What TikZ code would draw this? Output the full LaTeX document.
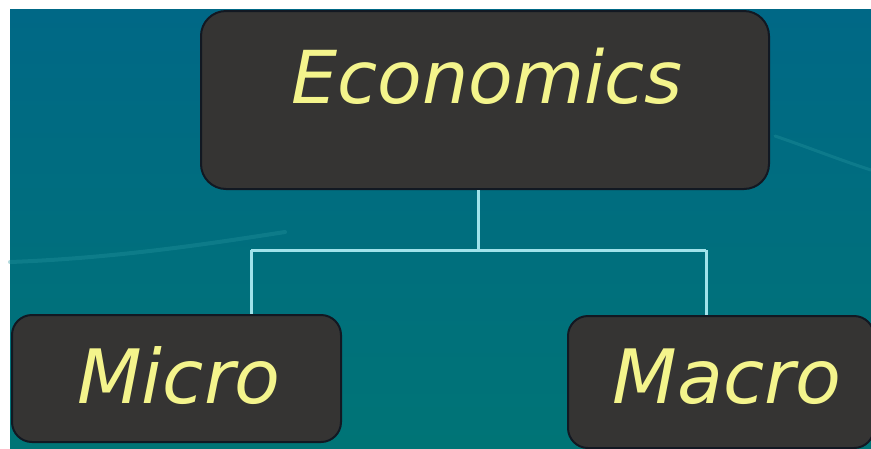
\documentclass[tikz,border=0pt]{standalone}
\usepackage{fontspec}
\newfontfamily\labelfont{DejaVu Sans}
\definecolor{bgtop}{RGB}{0,104,134}
\definecolor{bgbot}{RGB}{0,116,118}
\definecolor{boxfill}{RGB}{53,52,51}
\definecolor{boxedge}{RGB}{18,24,34}
\definecolor{txt}{RGB}{244,244,140}
\definecolor{conncol}{RGB}{160,226,234}
\definecolor{swooshcol}{RGB}{40,150,160}
\begin{document}
\begin{tikzpicture}[x=1pt,y=-1pt,
  box/.style={draw=boxedge, line width=2pt, fill=boxfill, rounded corners=#1,
    inner sep=0pt, text=txt, anchor=north west,
    font=\labelfont\itshape\fontsize{75}{75}\selectfont},
  conn/.style={draw=conncol, line width=3pt},
  swoosh/.style={draw=swooshcol, line cap=round, opacity=0.35}]
\useasboundingbox (0,0) rectangle (871,448);
\fill[white] (0,0) rectangle (871,448);
\shade[top color=bgtop, bottom color=bgbot] (10,9) rectangle (871,448);
\draw[swoosh, line width=4pt] (10,262) .. controls (120,258) and (220,242) .. (285,232);
\draw[swoosh, line width=3pt] (775,136) .. controls (810,148) and (840,160) .. (871,170);
% boxes
\node[box=25pt, minimum width=568pt, minimum height=178pt, text height=92pt, text depth=86pt,
  font=\labelfont\itshape\fontsize{73}{73}\selectfont] (eco) at (200,10) {\hspace*{4pt}Economics};
\node[box=20pt, minimum width=329pt, minimum height=127pt, text height=88pt, text depth=39pt] (micro) at (11,314) {\hspace*{5pt}Micro};
\node[box=20pt, minimum width=306pt, minimum height=132pt, text height=87pt, text depth=45pt] (macro) at (567,315) {\hspace*{12pt}Macro};
% connectors
\coordinate (j) at (478,250);
\coordinate (jl) at (251,250);
\coordinate (jr) at (706,250);
\draw[conn] (eco.south -| j) -- (j);
\draw[conn] (jl) -- (jr);
\draw[conn] (jl) -- (micro.north -| jl);
\draw[conn] (jr) -- (macro.north -| jr);
\end{tikzpicture}
\end{document}
